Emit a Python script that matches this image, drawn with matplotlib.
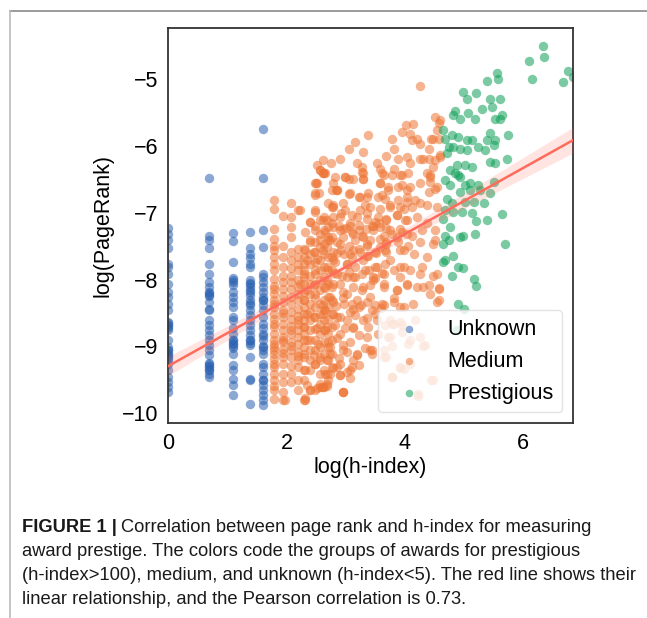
import numpy as np
import matplotlib
matplotlib.use("Agg")
import matplotlib.pyplot as plt
from matplotlib.lines import Line2D

plt.rcParams['font.family'] = ['Liberation Sans', 'DejaVu Sans']

# ---------------- data ----------------
# Unknown: h-index 1..5, x = log(h)  (darker spots = stacked points)
unk_h = [1, 2, 3, 4, 5]
unk_y = [
    [-7.22, -7.31, -7.41, -7.53, -7.76, -7.81, -7.91, -8.06, -8.18, -8.26, -8.36, -8.46, -8.63,
     -8.68, -8.76, -8.91, -9.01, -9.06, -9.13, -9.18, -9.26, -9.36, -9.46, -9.53, -9.61, -9.68,
     -8.65, -8.70, -8.72, -9.05, -9.10, -9.15, -9.20],
    [-6.48, -7.35, -7.41, -7.52, -7.76, -7.91, -8.03, -8.11, -8.18, -8.23, -8.33, -8.44, -8.61,
     -8.68, -8.76, -8.83, -8.91, -8.98, -9.06, -9.13, -9.26, -9.31, -9.36, -9.41, -9.46,
     -8.20, -8.25, -8.45, -9.25, -9.30, -9.35],
    [-7.30, -7.42, -7.73, -7.98, -8.03, -8.18, -8.26, -8.33, -8.41, -8.56, -8.61, -8.73, -8.81,
     -8.91, -8.96, -9.03, -9.11, -9.28, -9.36, -9.49, -9.58, -9.73,
     -8.00, -8.08, -8.90, -8.95, -9.00],
    [-7.28, -7.53, -7.61, -7.68, -7.76, -7.81, -8.01, -8.06, -8.11, -8.18, -8.23, -8.31, -8.38,
     -8.46, -8.53, -8.61, -8.68, -8.76, -8.83, -8.91, -8.98, -9.16, -9.49, -9.86,
     -8.05, -8.15, -8.35, -8.90, -8.95, -9.50],
    [-5.75, -6.48, -7.25, -7.51, -7.91, -7.96, -8.03, -8.11, -8.18, -8.26, -8.31, -8.38, -8.46,
     -8.56, -8.66, -8.73, -8.81, -8.91, -9.01, -9.11, -9.26, -9.31, -9.41, -9.51, -9.58, -9.66,
     -9.73, -9.81, -9.88, -8.30, -8.85, -9.00, -9.05, -9.50],
]

# Medium: low h-index columns (h = 6..16), x = log(h)
med_col_h = [6, 7, 8, 9, 10, 11, 12, 13, 14, 15, 16]
med_col_y = [
    [-6.81, -6.94, -7.24, -7.39, -7.49, -7.56, -7.66, -7.76, -7.86, -7.99, -8.09, -8.14, -8.21,
     -8.31, -8.41, -8.51, -8.59, -8.71, -8.81, -8.91, -9.01, -9.11, -9.19, -9.31, -9.41, -9.51,
     -9.59, -9.66, -9.79, -8.36, -8.66, -8.96, -9.06, -9.26],
    [-7.05, -7.49, -7.66, -7.81, -7.94, -8.04, -8.14, -8.24, -8.34, -8.46, -8.56, -8.66, -8.76,
     -8.86, -8.94, -9.04, -9.16, -9.26, -9.41, -9.54, -9.69, -9.80, -8.50, -8.90, -9.10],
    [-6.86, -7.06, -7.21, -7.36, -7.58, -7.71, -7.83, -7.94, -8.04, -8.14, -8.26, -8.36, -8.49,
     -8.59, -8.69, -8.81, -8.94, -9.06, -9.16, -9.29, -9.41, -9.54, -8.75, -9.00],
    [-6.96, -7.54, -7.66, -7.76, -7.86, -8.01, -8.11, -8.21, -8.31, -8.44, -8.54, -8.66, -8.76,
     -8.86, -8.96, -9.09, -9.21, -9.31, -9.51, -9.66, -8.60, -9.15],
    [-7.54, -7.66, -7.76, -7.86, -7.96, -8.06, -8.19, -8.31, -8.41, -8.51, -8.61, -8.71, -8.81,
     -8.91, -9.01, -9.16, -9.36, -9.51, -9.80],
    [-7.14, -7.41, -7.61, -7.76, -7.94, -8.06, -8.21, -8.36, -8.49, -8.61, -8.76, -8.91, -9.06,
     -9.21, -9.36, -9.66],
    [-6.56, -6.71, -6.96, -7.26, -7.44, -7.59, -7.74, -7.91, -8.06, -8.21, -8.41, -8.56, -8.74,
     -8.91, -9.06, -9.26, -9.66],
    [-6.36, -7.11, -7.31, -7.51, -7.71, -7.86, -8.01, -8.16, -8.36, -8.51, -8.66, -8.81, -9.01,
     -9.21, -9.41, -9.61],
    [-6.41, -7.06, -7.26, -7.46, -7.61, -7.81, -7.96, -8.11, -8.31, -8.46, -8.61, -8.76, -8.94,
     -9.11, -9.36, -9.61],
    [-6.86, -7.21, -7.41, -7.66, -7.86, -8.06, -8.26, -8.41, -8.59, -8.81, -9.01, -9.21, -9.51],
    [-6.66, -6.91, -7.16, -7.36, -7.66, -7.86, -8.11, -8.31, -8.51, -8.71, -8.91, -9.11, -9.31],
]

# Medium: higher h-index part, (log h-index, log PageRank) pairs
med_x = [
    4.25, 4.02, 4.14, 4.51, 4.58, 3.95, 4.08, 4.21, 3.38, 3.15, 3.06, 3.30, 2.91, 3.78, 3.81,
    3.69, 3.89, 4.04, 4.08, 4.26, 4.40, 4.45, 4.58, 4.59, 4.48, 3.19, 3.27, 3.30, 3.53, 3.58,
    3.64, 3.81, 3.95, 2.99, 3.05, 3.30, 2.62, 3.58, 3.72, 3.95, 4.09, 4.26, 4.43, 4.43, 4.51,
    4.40, 4.17, 4.03, 3.89, 3.61, 3.36, 3.24, 3.07, 2.85, 2.79, 2.99, 3.24, 3.41, 3.58, 3.75,
    3.98, 4.12, 4.26, 4.37, 4.54,
    2.68, 2.91, 3.07, 3.19, 3.36, 3.50, 3.69, 3.86, 4.03, 4.20, 4.37, 4.51, 2.91, 3.13, 3.30,
    3.47, 3.64, 3.78, 3.95, 4.12, 4.29, 2.74, 3.05, 3.36, 3.69, 3.89, 4.06, 4.26, 4.51,
    2.68, 2.91, 3.13, 3.36, 3.58, 3.98, 4.15, 4.37, 4.48, 2.79, 3.02, 3.30, 3.53, 3.75, 3.92,
    4.09, 4.29, 4.54, 4.26,
    2.68, 2.91, 3.13, 3.30, 3.47, 3.64, 3.86, 4.03, 4.20, 4.40, 4.57, 2.74, 3.02, 3.19, 3.41,
    3.61, 3.81, 3.98, 4.14, 4.54,
    2.65, 2.85, 3.07, 3.30, 3.50, 2.68, 2.91, 3.13, 3.36, 3.55, 3.75, 3.95, 4.17, 3.72, 4.06,
    4.26,
    2.74, 2.96, 3.19, 3.41, 3.44, 2.68, 2.91, 3.10, 3.64, 3.92, 2.68, 2.91, 3.07, 3.78, 4.34,
    4.45, 4.23, 2.96, 2.62,
    1.97, 2.31, 2.40, 2.57, 2.68, 2.96, 2.85, 3.02, 2.74, 3.19,
    3.78, 3.95, 3.78, 4.09, 3.64, 4.31, 3.98, 3.78, 4.09, 4.48, 4.23,
    4.57, 4.57, 4.43, 4.48, 4.31,
    4.59, 4.54, 4.48, 4.41, 4.51, 4.31, 4.26, 4.12, 4.59, 4.37, 4.43, 4.54,
    2.57, 2.65, 2.51, 2.52, 2.62, 2.75, 2.82, 2.55, 2.78, 2.83,
    2.88, 3.00, 3.10, 3.22, 3.34, 3.46, 3.56, 3.68, 2.86, 2.98, 3.11, 3.24, 3.38, 3.52, 3.66,
    2.80, 2.94, 3.06, 3.16, 3.28, 3.40, 3.50, 3.62, 2.84, 2.97, 3.12, 3.26, 3.44, 3.60,
    # dense centre, upper half
    2.62, 2.99, 3.13, 3.27, 3.30, 3.61, 3.78, 3.92, 4.06, 2.50, 2.48, 2.85, 3.06, 3.22, 3.38,
    3.58, 3.72, 3.89, 4.03, 3.55, 3.67, 2.79, 2.96, 3.33, 3.75, 3.92, 4.03, 2.23, 2.48, 2.79,
    2.93, 3.10, 3.36, 3.55, 3.69, 3.86, 4.00, 2.40, 2.62, 2.48, 2.31, 2.65, 2.79, 2.96, 3.08,
    3.22, 3.44, 3.58, 3.75, 3.92, 2.40, 2.57, 2.71, 2.85, 2.96, 3.16, 3.27, 3.41, 3.58, 3.69,
    3.86, 4.03, 2.31, 2.46, 2.62, 2.79, 2.93, 3.08, 3.22, 3.36, 3.50, 3.69, 3.92, 2.34, 2.51,
    2.68, 2.82, 3.02, 3.16, 3.33, 3.50, 3.67, 3.81, 3.98, 2.29, 2.48, 2.85, 3.02, 3.47, 3.64,
    3.92,
    # dense centre, lower half
    2.23, 2.34, 2.46, 2.65, 2.79, 2.96, 3.13, 3.27, 3.41, 3.64, 3.86, 4.03, 2.29, 2.48, 2.62,
    2.79, 2.96, 3.10, 3.22, 3.36, 3.50, 3.64, 3.81, 3.92, 2.34, 2.46, 2.62, 2.79, 2.91, 3.02,
    3.16, 3.36, 3.53, 2.29, 2.51, 2.65, 2.82, 2.99, 3.13, 3.38, 3.22, 2.34, 2.54, 2.71, 2.85,
    2.96, 3.08, 3.33, 3.44, 2.29, 2.46, 2.57, 2.74, 2.88, 3.02, 3.13, 3.22, 2.31, 2.48, 2.65,
    2.79, 2.91, 3.08, 2.34, 2.51, 2.60, 2.68, 2.96, 2.31,
    3.67, 3.81, 3.92, 3.75, 3.69, 3.92, 3.78,
]
med_y = [
    -5.10, -5.68, -5.67, -5.57, -5.65, -5.79, -5.82, -5.89, -5.84, -5.94, -6.05, -6.09, -6.19,
    -5.90, -6.04, -6.15, -6.20, -6.17, -6.26, -6.19, -6.20, -5.90, -5.90, -6.14, -6.31, -6.26,
    -6.31, -6.41, -6.26, -6.34, -6.44, -6.34, -6.44, -6.46, -6.49, -6.49, -6.41, -6.56, -6.61,
    -6.59, -6.61, -6.56, -6.44, -6.54, -6.64, -6.69, -6.81, -6.76, -6.81, -6.74, -6.76, -6.76,
    -6.71, -6.66, -6.89, -6.96, -6.96, -6.91, -6.94, -6.91, -6.94, -6.91, -6.86, -6.89, -6.91,
    -7.11, -7.06, -7.16, -7.06, -7.09, -7.14, -7.09, -7.04, -7.11, -7.06, -7.16, -7.26, -7.26,
    -7.31, -7.36, -7.26, -7.34, -7.31, -7.29, -7.34, -7.26, -7.41, -7.49, -7.49, -7.46, -7.44,
    -7.49, -7.44, -7.41,
    -7.51, -7.46, -7.56, -7.46, -7.51, -7.56, -7.61, -7.66, -7.46, -7.71, -7.76, -7.71, -7.81,
    -7.71, -7.81, -7.86, -7.81, -7.91, -7.91,
    -8.01, -8.06, -7.96, -8.11, -8.01, -8.06, -8.16, -8.06, -8.11, -8.08, -8.13, -8.26, -8.21,
    -8.31, -8.26, -8.36, -8.28, -8.41, -8.36, -8.33,
    -8.46, -8.56, -8.48, -8.61, -8.51, -8.71, -8.81, -8.73, -8.86, -8.81, -8.61, -8.68, -8.61,
    -8.86, -8.96, -8.86,
    -9.01, -9.06, -9.13, -9.06, -9.11, -9.21, -9.26, -9.31, -9.16, -9.31, -9.41, -9.43, -9.48,
    -9.46, -8.98, -9.51, -9.72, -9.68, -9.61,
    -9.80, -9.80, -9.66, -9.56, -9.59, -9.69, -9.31, -9.39, -9.41, -9.11,
    -8.66, -8.79, -8.99, -8.91, -9.06, -8.99, -9.34, -9.46, -9.26, -9.51, -9.74,
    -8.14, -8.31, -8.21, -7.94, -8.11,
    -5.61, -5.76, -5.89, -6.04, -6.21, -6.19, -5.97, -5.91, -6.16, -6.41, -6.46, -6.61,
    -6.36, -6.41, -6.56, -6.29, -6.21, -6.26, -6.46, -6.71, -6.56, -6.66,
    -7.20, -7.22, -7.28, -7.18, -7.24, -7.20, -7.16, -7.22, -7.60, -7.62, -7.66, -7.58, -7.64,
    -7.60, -7.56, -7.90, -7.94, -7.88, -7.96, -7.92, -7.86, -7.98, -7.90, -8.40, -8.36, -8.44,
    -8.38, -8.46, -8.42,
    # dense centre, upper half
    -6.41, -6.46, -6.49, -6.39, -6.49, -6.41, -6.44, -6.44, -6.41, -6.56, -6.74, -6.66, -6.72,
    -6.76, -6.71, -6.56, -6.66, -6.61, -6.66, -6.76, -6.79, -6.91, -6.86, -6.89, -6.89, -6.91,
    -6.84, -6.96, -6.99, -7.06, -7.01, -7.04, -7.01, -7.06, -7.11, -7.04, -7.11, -7.14, -7.11,
    -7.19, -7.29, -7.29, -7.21, -7.24, -7.19, -7.26, -7.19, -7.21, -7.26, -7.24, -7.44, -7.41,
    -7.36, -7.44, -7.36, -7.41, -7.34, -7.41, -7.39, -7.44, -7.36, -7.31, -7.56, -7.59, -7.56,
    -7.59, -7.56, -7.61, -7.54, -7.64, -7.59, -7.59, -7.56, -7.71, -7.69, -7.81, -7.74, -7.76,
    -7.81, -7.86, -7.81, -7.76, -7.86, -7.81, -7.91, -7.86, -7.91, -7.96, -7.96, -7.91, -7.96,
    # dense centre, lower half
    -8.06, -8.16, -8.08, -8.13, -8.06, -8.18, -8.11, -8.16, -8.08, -8.11, -8.16, -8.08, -8.31,
    -8.28, -8.38, -8.33, -8.28, -8.36, -8.41, -8.33, -8.38, -8.38, -8.33, -8.41, -8.51, -8.56,
    -8.51, -8.51, -8.56, -8.61, -8.53, -8.58, -8.61, -8.71, -8.73, -8.76, -8.68, -8.73, -8.71,
    -8.71, -8.83, -8.91, -8.96, -8.93, -8.88, -8.98, -8.93, -9.03, -9.06, -9.11, -9.13, -9.16,
    -9.11, -9.18, -9.08, -9.21, -9.28, -9.36, -9.26, -9.41, -9.33, -9.43, -9.36, -9.58, -9.63,
    -9.61, -9.56, -9.68, -9.78,
    -8.68, -8.66, -8.63, -8.86, -9.16, -9.33, -9.46,
]

# Prestigious: (log h-index, log PageRank) pairs
pre_x = [
    6.34, 6.35, 6.09, 6.14, 6.76, 6.67, 6.84, 5.56, 5.38, 5.58, 5.21, 4.98, 5.05, 5.44, 5.60,
    4.85, 4.82, 4.93, 5.07, 5.19, 5.30, 5.47, 5.52, 5.61, 5.64, 5.75, 5.44, 5.38, 5.52, 4.65,
    4.68, 4.79, 4.90, 5.05, 5.13, 5.24, 5.35, 5.50, 5.72, 5.44, 5.52, 4.74, 4.82, 4.93, 5.05,
    4.71, 4.88, 4.76, 4.85, 5.02, 5.13, 4.90, 4.93, 4.68, 4.76, 5.02, 5.10, 5.24, 5.10, 5.27,
    5.44, 5.50, 4.93, 4.71, 4.79, 5.02, 5.16, 5.33, 4.68, 4.82, 4.96, 5.13, 5.64, 4.65, 4.76,
    5.21, 5.38, 5.19, 4.99, 4.93, 4.68, 4.74, 4.65, 5.69, 4.68, 4.65, 4.82, 4.90, 4.99, 4.79,
    5.16, 5.21, 4.90, 5.00, 4.88,
]
pre_y = [
    -4.50, -4.67, -4.72, -5.00, -4.87, -5.04, -4.96, -4.91, -5.03, -5.00, -5.20, -5.19, -5.30,
    -5.29, -5.29, -5.48, -5.54, -5.59, -5.50, -5.59, -5.44, -5.41, -5.59, -5.59, -5.54, -5.84,
    -5.81, -5.91, -5.91, -5.76, -5.89, -5.84, -5.86, -5.91, -5.91, -6.01, -6.06, -5.99, -6.19,
    -6.24, -6.26, -6.01, -6.01, -6.04, -6.06, -6.11, -6.29, -6.36, -6.41, -6.29, -6.31, -6.44,
    -6.46, -6.51, -6.59, -6.59, -6.56, -6.59, -6.66, -6.66, -6.71, -6.54, -6.69, -6.79, -6.86,
    -6.84, -6.84, -6.85, -6.96, -6.99, -6.99, -7.01, -7.02, -7.09, -7.21, -7.12, -7.11, -7.31,
    -7.34, -7.36, -7.34, -7.41, -7.46, -7.46, -7.71, -7.74, -7.64, -7.81, -7.82, -7.95, -7.99,
    -8.09, -8.37, -8.44, -8.76,
]

labels = ["Unknown", "Medium", "Prestigious"]
colors = ["#2C62B2", "#EE7636", "#10A058"]

# ---------------- assemble ----------------
ux = np.concatenate([np.full(len(v), np.log(h)) for h, v in zip(unk_h, unk_y)])
uy = np.concatenate([np.array(v) for v in unk_y])
mx = np.concatenate([np.full(len(v), np.log(h)) for h, v in zip(med_col_h, med_col_y)] + [np.array(med_x)])
my = np.concatenate([np.array(v) for v in med_col_y] + [np.array(med_y)])
px = np.array(pre_x)
py = np.array(pre_y)

allx = np.concatenate([ux, mx, px])
ally = np.concatenate([uy, my, py])

# ---------------- figure ----------------
fig = plt.figure(figsize=(6.47, 6.18), dpi=100)
ax = fig.add_axes([168 / 647, 1 - 423 / 618, 405 / 647, 395 / 618])

ms = 46
for xx, yy, c, lab in zip([ux, mx, px], [uy, my, py], colors, labels):
    ax.scatter(xx, yy, s=ms, color=c, alpha=0.55, linewidths=0, label=lab, zorder=2)

# linear fit with 95% CI
b, a = np.polyfit(allx, ally, 1)
xmin, xmax = allx.min(), allx.max()
xg = np.linspace(xmin, xmax, 200)
yg = a + b * xg
n = len(allx)
res = ally - (a + b * allx)
s = np.sqrt(np.sum(res ** 2) / (n - 2))
sxx = np.sum((allx - allx.mean()) ** 2)
se = s * np.sqrt(1 / n + (xg - allx.mean()) ** 2 / sxx)
line_c = "#FF6B5B"
ax.fill_between(xg, yg - 1.96 * se, yg + 1.96 * se, color=line_c, alpha=0.18, linewidth=0, zorder=3)
ax.plot(xg, yg, color=line_c, lw=1.8, zorder=4)

ax.set_xlim(xmin, xmax)
yr = ally.max() - ally.min()
ax.set_ylim(ally.min() - 0.05 * yr, ally.max() + 0.05 * yr)
ax.set_xticks([0, 2, 4, 6])
ax.set_yticks([-10, -9, -8, -7, -6, -5])
ax.tick_params(length=0, labelsize=15.5, pad=7)
for sp in ax.spines.values():
    sp.set_color("#333333")
    sp.set_linewidth(1.3)
ax.set_xlabel("log(h-index)", fontsize=15.5, labelpad=2)
ax.set_ylabel("log(PageRank)", fontsize=15.5, labelpad=6)

leg = ax.legend(loc="lower right", fontsize=15.5, frameon=True, markerscale=0.8)
leg.get_frame().set_edgecolor("#DDDDDD")

# page frame lines
fig.add_artist(Line2D([10 / 647, 1], [1 - 10.5 / 618, 1 - 10.5 / 618], color="#8A8A8A", lw=1.2))
fig.add_artist(Line2D([10 / 647, 10 / 647], [0, 1 - 10.5 / 618], color="#BBBBBB", lw=1.2))

# caption
cap_fs = 13.2
x0 = 22 / 647
ys = [527, 552, 576, 600]
fig.canvas.draw()
r = fig.canvas.get_renderer()
t_bold = fig.text(x0, 1 - ys[0] / 618, "FIGURE 1 |", fontsize=cap_fs, fontweight="bold",
                  va="center", ha="left", color="#1A1A1A")
bb = t_bold.get_window_extent(renderer=r)
fig.text((bb.x1 + 4) / fig.bbox.width, 1 - ys[0] / 618,
         "Correlation between page rank and h-index for measuring",
         fontsize=cap_fs, va="center", ha="left", color="#1A1A1A")
lines = [
    "award prestige. The colors code the groups of awards for prestigious",
    "(h-index>100), medium, and unknown (h-index<5). The red line shows their",
    "linear relationship, and the Pearson correlation is 0.73.",
]
for ln, yy in zip(lines, ys[1:]):
    fig.text(x0, 1 - yy / 618, ln, fontsize=cap_fs, va="center", ha="left", color="#1A1A1A")

fig.savefig("out.png", dpi=100)
print(a, b)
